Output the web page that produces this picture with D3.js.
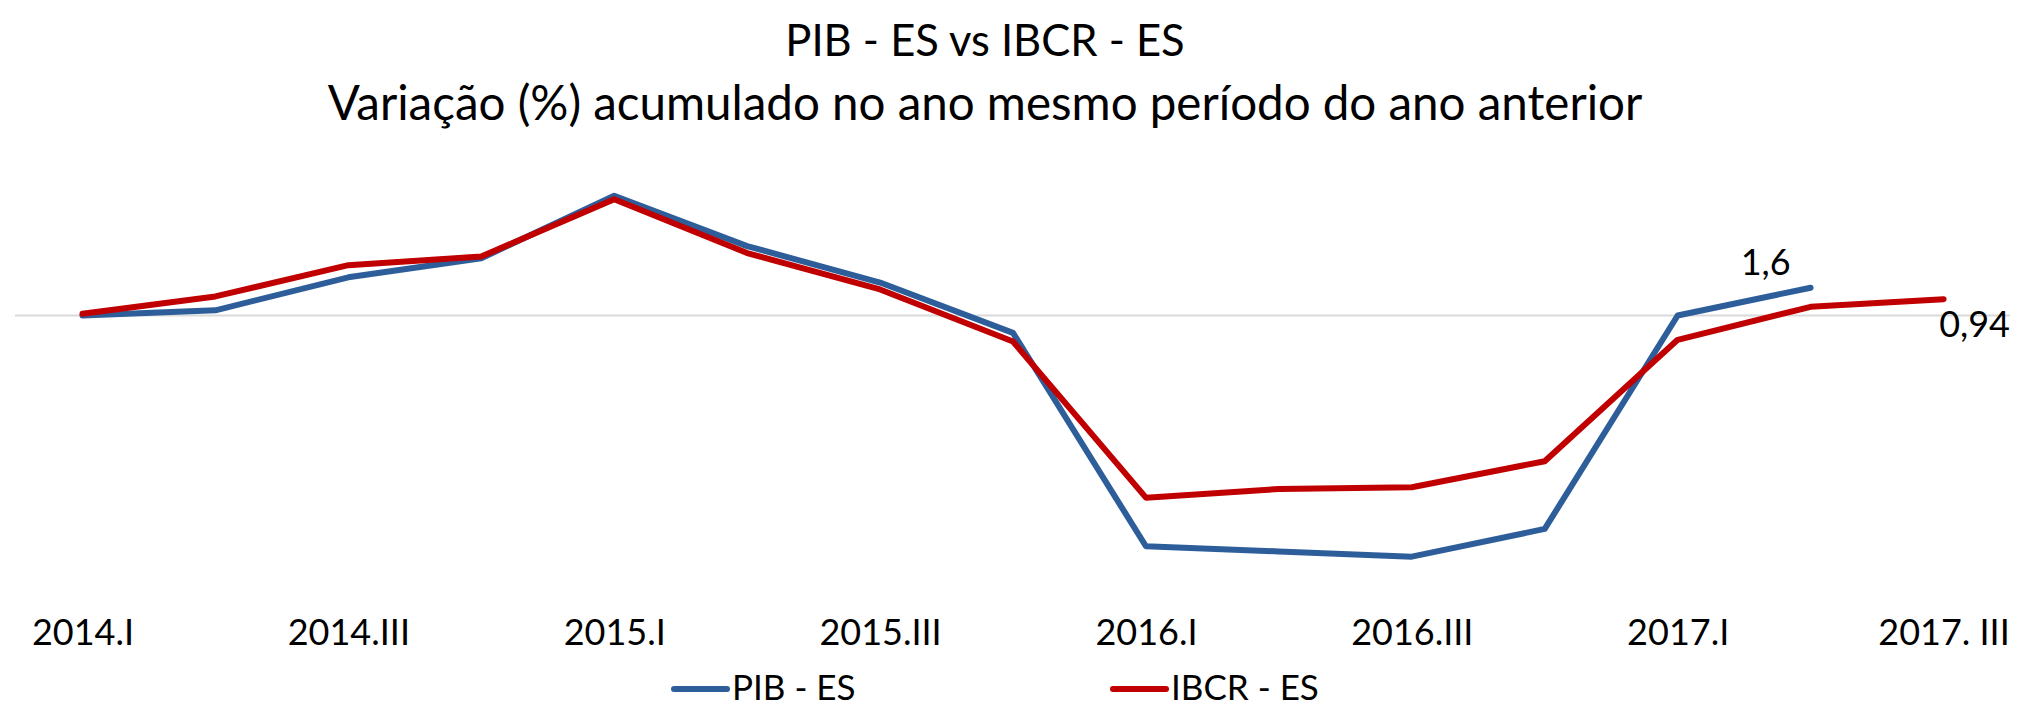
<!DOCTYPE html>
<html>
<head>
<meta charset="utf-8">
<script src="https://cdn.jsdelivr.net/npm/d3@7"></script>
<style>
  body { margin: 0; background: #fff; }
  text { font-family: Lato, "Open Sans", sans-serif; fill: #000; }
</style>
</head>
<body>
<script>
// Data
const categories = ['2014.I', '2014.II', '2014.III', '2014.IV',
  '2015.I', '2015.II', '2015.III', '2015.IV',
  '2016.I', '2016.II', '2016.III', '2016.IV',
  '2017.I', '2017.II', '2017. III'];
const tickLabels = ['2014.I', '2014.III', '2015.I', '2015.III',
  '2016.I', '2016.III', '2017.I', '2017. III'];
const pibValues = [0.0, 0.3, 2.2, 3.3, 6.9, 4.0, 1.9, -1.0,
  -13.3, -13.6, -13.9, -12.3, 0.0, 1.6, null];
const ibcrValues = [0.1, 1.1, 2.9, 3.4, 6.7, 3.6, 1.5, -1.5,
  -10.5, -10.0, -9.9, -8.4, -1.4, 0.5, 0.94];
const seriesNames = ['PIB - ES', 'IBCR - ES'];

// Constants
const WIDTH = 2018;
const HEIGHT = 708;
const COLORS = ['#2E5E9A', '#C00000'];

const series = [
  {name: seriesNames[0], values: pibValues, color: COLORS[0], label: '1,6', dx: -45, dy: -13},
  {name: seriesNames[1], values: ibcrValues, color: COLORS[1], label: '0,94', dx: 31, dy: 38}
];

const svg = d3.select('body')
  .append('svg')
  .attr('width', WIDTH)
  .attr('height', HEIGHT);

// Scales
const xScale = d3.scalePoint()
  .domain(categories)
  .range([16, 2010])
  .padding(0.5);

const yScale = d3.scaleLinear()
  .domain([-16, 10])
  .range([593.1, 142]);

// Title
svg.append('text')
  .attr('x', 985)
  .attr('y', 56)
  .attr('text-anchor', 'middle')
  .style('font-size', '43.5px')
  .text('PIB - ES vs IBCR - ES');
svg.append('text')
  .attr('x', 985)
  .attr('y', 120)
  .attr('text-anchor', 'middle')
  .style('font-size', '47.5px')
  .text('Variação (%) acumulado no ano mesmo período do ano anterior');

// Zero line (horizontal axis line)
svg.append('line')
  .attr('x1', xScale.range()[0] - 1)
  .attr('x2', xScale.range()[1])
  .attr('y1', yScale(0))
  .attr('y2', yScale(0))
  .style('stroke', '#D9D9D9')
  .style('stroke-width', '2px');

// Category labels at the bottom
const xAxis = d3.axisBottom(xScale)
  .tickValues(tickLabels)
  .tickSize(0);
const axisG = svg.append('g')
  .attr('class', 'x-axis')
  .attr('transform', 'translate(0,645)')
  .call(xAxis);
axisG.select('.domain').remove();
axisG.selectAll('text')
  .attr('y', 0)
  .attr('dy', 0)
  .style('font-family', 'Lato, sans-serif')
  .style('font-size', '36px')
  .style('fill', '#000');

// Lines
const line = d3.line()
  .defined(function(d) { return d != null; })
  .x(function(d, i) { return xScale(categories[i]); })
  .y(function(d) { return yScale(d); });

svg.selectAll('.line')
  .data(series)
  .enter().append('path')
  .attr('class', 'line')
  .attr('d', function(s) { return line(s.values); })
  .style('fill', 'none')
  .style('stroke', function(s) { return s.color; })
  .style('stroke-width', '6px')
  .style('stroke-linejoin', 'round')
  .style('stroke-linecap', 'round');

// Data labels on last point of each series
svg.selectAll('.data-label')
  .data(series)
  .enter().append('text')
  .attr('class', 'data-label')
  .attr('text-anchor', 'middle')
  .attr('x', function(s) {
    const i = d3.max(s.values.map(function(v, j) { return v == null ? -1 : j; }));
    return xScale(categories[i]) + s.dx;
  })
  .attr('y', function(s) {
    const i = d3.max(s.values.map(function(v, j) { return v == null ? -1 : j; }));
    return yScale(s.values[i]) + s.dy;
  })
  .style('font-size', '36px')
  .text(function(s) { return s.label; });

// Legend
const legend = svg.append('g')
  .attr('class', 'legend');
const legendX = [672, 1111];
const item = legend.selectAll('.item')
  .data(series)
  .enter().append('g')
  .attr('class', 'item')
  .attr('transform', function(s, i) { return 'translate(' + legendX[i] + ',689)'; });
item.append('line')
  .attr('x1', 2).attr('x2', 55)
  .attr('y1', 0).attr('y2', 0)
  .style('stroke', function(s) { return s.color; })
  .style('stroke-width', '6px')
  .style('stroke-linecap', 'round');
item.append('text')
  .attr('x', 60)
  .attr('y', 11)
  .style('font-size', '35px')
  .text(function(s) { return s.name; });
</script>
</body>
</html>
